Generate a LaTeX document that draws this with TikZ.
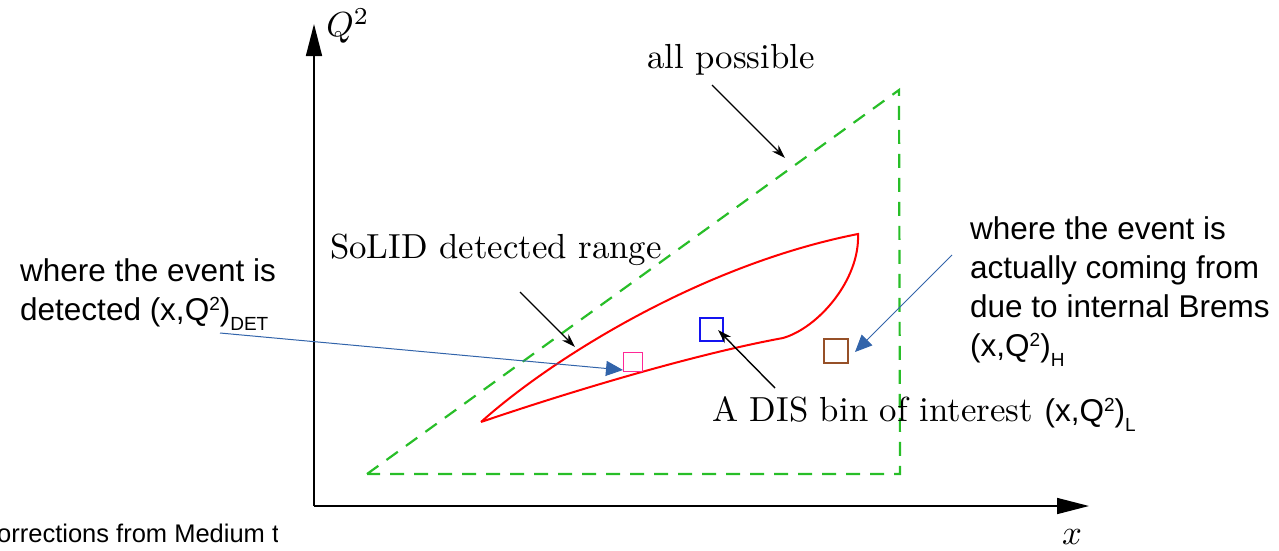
\documentclass[tikz,border=0pt]{standalone}
\usepackage{fontspec}
\usetikzlibrary{arrows.meta}
\newfontfamily\arialf{Liberation Sans}
\definecolor{dgreen}{RGB}{40,190,40}
\definecolor{ablue}{RGB}{50,100,170}
\definecolor{bpink}{RGB}{255,40,150}
\definecolor{bbrown}{RGB}{150,80,40}
\definecolor{bblue}{RGB}{20,20,240}
\tikzset{
  axisline/.style={line width=1.6pt,-{Triangle[length=32pt,width=16pt]}},
  allregion/.style={draw=dgreen,line width=2.2pt,dash pattern=on 14pt off 10pt},
  solidregion/.style={draw=red,line width=2pt},
  blackarrow/.style={line width=1.4pt,-{Stealth[length=14pt,width=9pt]}},
  bluearrow/.style={draw=ablue,line width=1pt,-{Triangle[length=17pt,width=15pt]},color=ablue},
  serifbig/.style={inner sep=0pt},
  sanstext/.style={font=\arialf\fontsize{31.5}{39}\selectfont,inner sep=0pt,align=left},
  binbox/.style={draw,minimum width=#1,minimum height=#1,inner sep=0pt},
}
\newcommand{\subtxt}[1]{\raisebox{-0.32em}{\fontsize{19}{19}\selectfont #1}}
\newcommand{\suptxt}[1]{\raisebox{0.3em}{\fontsize{19}{19}\selectfont #1}}
\newcommand{\bigserif}[1]{\scalebox{3.48}{#1}}
\begin{document}
\begin{tikzpicture}[x=1pt,y=-1pt]
\useasboundingbox (0,0) rectangle (1279,550);
% axes
\coordinate (O) at (314,506);
\coordinate (ytip) at (314,24);
\coordinate (xtip) at (1089,506);
\draw[axisline] (O) -- (ytip);
\draw[axisline] (O) -- (xtip);
\node[serifbig] (Qlab) at (348,26) {\bigserif{$Q^2$}};
\node[serifbig] (xlab) at (1072,537) {\bigserif{$x$}};
% all possible region
\coordinate (g1) at (367,474);
\coordinate (g2) at (899,90);
\coordinate (g3) at (900,474);
\draw[allregion] (g1) -- (g2) -- (g3) -- cycle;
% SoLID region
\coordinate (r1) at (481,422);
\coordinate (r2) at (858,234);
\coordinate (r3) at (783,338);
\draw[solidregion] (r1) .. controls (550,360) and (700,265) .. (r2)
  .. controls (860,280) and (818,328) .. (r3)
  .. controls (690,355) and (560,395) .. (r1);
% bins
\node[binbox=19pt,draw=bpink,line width=1.2pt] (pinkbin) at (633,362) {};
\node[binbox=23pt,draw=bblue,line width=2pt] (bluebin) at (711.5,329.5) {};
\node[binbox=24pt,draw=bbrown,line width=2pt] (brownbin) at (836,351) {};
% labels
\node[serifbig] (allposs) at (731,60) {\bigserif{all possible}};
\node[serifbig] (solid) at (496,250) {\bigserif{SoLID detected range}};
\node[serifbig,anchor=base west] (dis) at (712,421) {\bigserif{A DIS bin of interest\ }{\arialf\fontsize{31.5}{39}\selectfont (x,Q\suptxt{2})\subtxt{L}}};
\node[sanstext,anchor=north west] (det) at (20,258) {where the event is\\detected (x,Q\suptxt{2})\subtxt{DET}};
\node[sanstext,anchor=north west] (hlab) at (970,216) {where the event is\\actually coming from\\due to internal Brems\\(x,Q\suptxt{2})\subtxt{H}};
% black arrows
\coordinate (a1s) at (712,85);
\coordinate (a1e) at (785,158);
\draw[blackarrow] (a1s) -- (a1e);
\coordinate (a2s) at (520,292);
\coordinate (a2e) at (575,347);
\draw[blackarrow] (a2s) -- (a2e);
\coordinate (a3s) at (775,388);
\coordinate (a3e) at (718,330);
\draw[blackarrow] (a3s) -- (a3e);
% blue arrows
\coordinate (b1s) at (220,333);
\coordinate (b1e) at (623,370);
\draw[bluearrow] (b1s) -- (b1e);
\coordinate (b2s) at (952,255);
\coordinate (b2e) at (855,352);
\draw[bluearrow] (b2s) -- (b2e);
% cut footer text
\begin{scope}
\clip (0,505) rectangle (277,550);
\node[font=\arialf\fontsize{25.5}{28}\selectfont,inner sep=0pt,anchor=base west] (footer) at (-3,542) {orrections from Medium t};
\end{scope}
\end{tikzpicture}
\end{document}
